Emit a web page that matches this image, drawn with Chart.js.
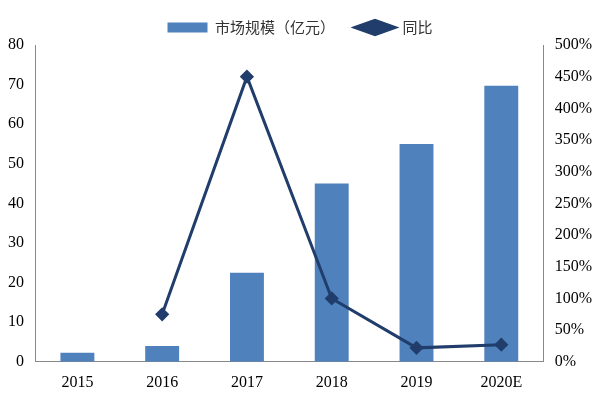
<!DOCTYPE html>
<html>
<head>
<meta charset="utf-8">
<script src="https://cdn.jsdelivr.net/npm/chart.js@4"></script>
<style>
  body { margin: 0; background: #fff; }
  #wrap { width: 600px; height: 400px; }
</style>
</head>
<body>
<div id="wrap"><canvas id="chart"></canvas></div>
<script>
const categories = ['2015', '2016', '2017', '2018', '2019', '2020E'];
const marketSize = [2.3, 4, 22.5, 45, 55, 69.7];
const yoy = [null, 75, 450, 100, 22, 27];

new Chart(document.getElementById('chart'), {
    data: {
        labels: categories,
        datasets: [
            {
                type: 'line',
                label: '同比',
                data: yoy,
                yAxisID: 'y1',
                borderColor: '#213d6b',
                backgroundColor: '#213d6b',
                borderWidth: 3,
                pointStyle: 'rectRot',
                pointRadius: 5,
                order: 0
            },
            {
                type: 'bar',
                label: '市场规模（亿元）',
                data: marketSize,
                yAxisID: 'y',
                backgroundColor: '#4f81bd',
                pointStyle: 'rect',
                categoryPercentage: 0.5,
                barPercentage: 0.8,
                order: 1
            }
        ]
    },
    options: {
        responsive: true,
        maintainAspectRatio: false,
        animation: false,
        layout: { padding: { left: 5, right: 5, top: 0, bottom: 5 } },
        plugins: {
            legend: {
                position: 'top',
                reverse: true,
                labels: {
                    font: { size: 15, family: 'Noto Sans CJK SC' },
                    color: '#333',
                    usePointStyle: true,
                    pointStyleWidth: 40,
                    boxHeight: 10,
                    padding: 20
                }
            }
        },
        scales: {
            x: {
                grid: { display: false },
                border: { color: '#888' },
                ticks: { font: { size: 16, family: 'Liberation Serif' }, color: '#000' }
            },
            y: {
                position: 'left',
                min: 0, max: 80,
                ticks: { stepSize: 10, font: { size: 16, family: 'Liberation Serif' }, color: '#000' },
                grid: { display: false },
                border: { color: '#888' }
            },
            y1: {
                position: 'right',
                min: 0, max: 500,
                ticks: { stepSize: 50, callback: v => v + '%', font: { size: 16, family: 'Liberation Serif' }, color: '#000' },
                grid: { display: false },
                border: { color: '#888' }
            }
        }
    }
});
</script>
</body>
</html>
